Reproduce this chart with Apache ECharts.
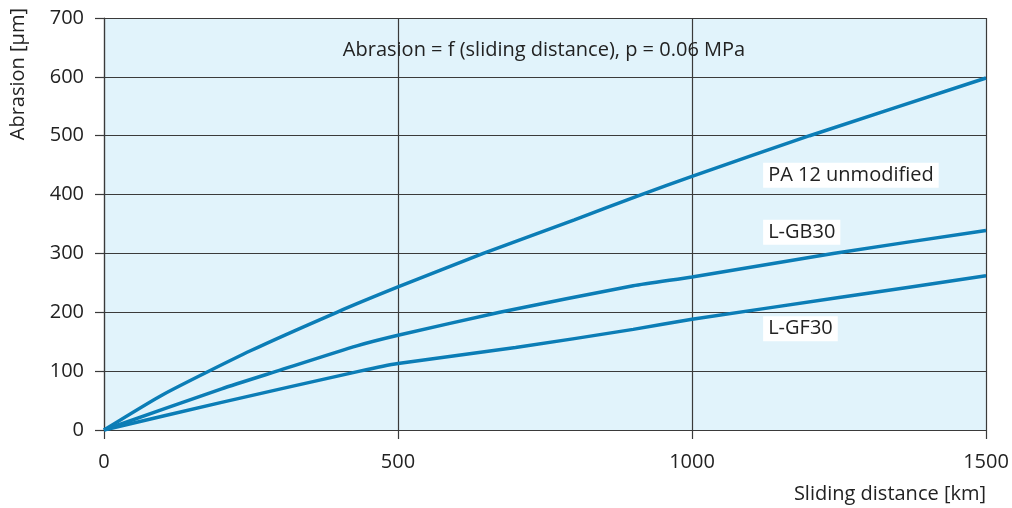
<!DOCTYPE html>
<html>
<head>
<meta charset="utf-8">
<script src="https://cdn.jsdelivr.net/npm/echarts@6/dist/echarts.min.js"></script>
<style>html,body{margin:0;padding:0;background:#fff}#c{width:1012px;height:508px}</style>
</head>
<body>
<div id="c"></div>
<script>
const titleText = 'Abrasion = f (sliding distance), p = 0.06 MPa';
const xName = 'Sliding distance [km]';
const yName = 'Abrasion [µm]';
const xTicks = [0, 500, 1000, 1500];
const yTicks = [0, 100, 200, 300, 400, 500, 600, 700];

const pa12 = [[0,0],[100,60],[250,135],[396,200],[500,243],[645,300],[800,357],[914,400],[1000,431],[1200,500],[1500,598]];
const gb30 = [[0,0],[200,70],[294,100],[430,143],[500,161],[673,200],[900,245],[1000,260],[1240,300],[1500,339]];
const gf30 = [[0,0],[200,47],[435,100],[500,113],[700,140],[900,171],[1000,188],[1250,225],[1500,262]];

const seriesNames = ['PA 12 unmodified', 'L-GB30', 'L-GF30'];
const labelPos = [[1121, 433], [1121, 336], [1121, 172]];

const FONT = 'Open Sans';
const FS = 20;
const lineColor = '#0b7db6';
const gridColor = '#3a3a3a';

const chart = echarts.init(document.getElementById('c'), null, {renderer: 'canvas'});

function mkSeries(name, data, pos) {
  return {
    name: name, type: 'line', data: data, smooth: 0.2,
    symbol: 'none', lineStyle: {color: lineColor, width: 3.5}, z: 5,
    markPoint: {
      symbol: 'rect', symbolSize: 0, silent: true,
      data: [{coord: pos, value: name}],
      label: {
        show: true, position: 'right', distance: 0, formatter: name,
        backgroundColor: '#fff', padding: [3, 5, 2, 5],
        fontFamily: FONT, fontSize: FS, color: '#222'
      }
    }
  };
}

chart.setOption({
  animation: false,
  grid: {left: 104, right: 26, top: 18, bottom: 78, show: true, backgroundColor: '#e1f3fb', borderWidth: 0},
  xAxis: {
    type: 'value', min: 0, max: 1500, interval: 500,
    axisLine: {show: true, lineStyle: {color: gridColor, width: 1.2}},
    axisTick: {show: true, length: 9, lineStyle: {color: gridColor, width: 1.2}},
    axisLabel: {fontFamily: FONT, fontSize: FS, color: '#222', margin: 22,
      formatter: v => xTicks.includes(v) ? String(v) : ''},
    splitLine: {show: true, lineStyle: {color: gridColor, width: 1.2}}
  },
  yAxis: {
    type: 'value', min: 0, max: 700, interval: 100,
    axisLine: {show: true, lineStyle: {color: gridColor, width: 1.2}},
    axisTick: {show: true, length: 9, lineStyle: {color: gridColor, width: 1.2}},
    axisLabel: {fontFamily: FONT, fontSize: FS, color: '#222', margin: 20,
      formatter: v => yTicks.includes(v) ? String(v) : ''},
    splitLine: {show: true, lineStyle: {color: gridColor, width: 1.2}}
  },
  graphic: [
    {type: 'text', x: 544, y: 50, z: 10, style: {text: titleText, fontFamily: FONT, fontSize: FS, fill: '#222', align: 'center', verticalAlign: 'middle'}},
    {type: 'text', x: 986, y: 494, style: {text: xName, fontFamily: FONT, fontSize: FS, fill: '#222', align: 'right', verticalAlign: 'middle'}},
    {type: 'text', x: 18, y: 8, rotation: Math.PI / 2, style: {text: yName, fontFamily: FONT, fontSize: FS, fill: '#222', align: 'right', verticalAlign: 'middle'}}
  ],
  series: [
    mkSeries(seriesNames[0], pa12, labelPos[0]),
    mkSeries(seriesNames[1], gb30, labelPos[1]),
    mkSeries(seriesNames[2], gf30, labelPos[2])
  ]
});
</script>
</body>
</html>
